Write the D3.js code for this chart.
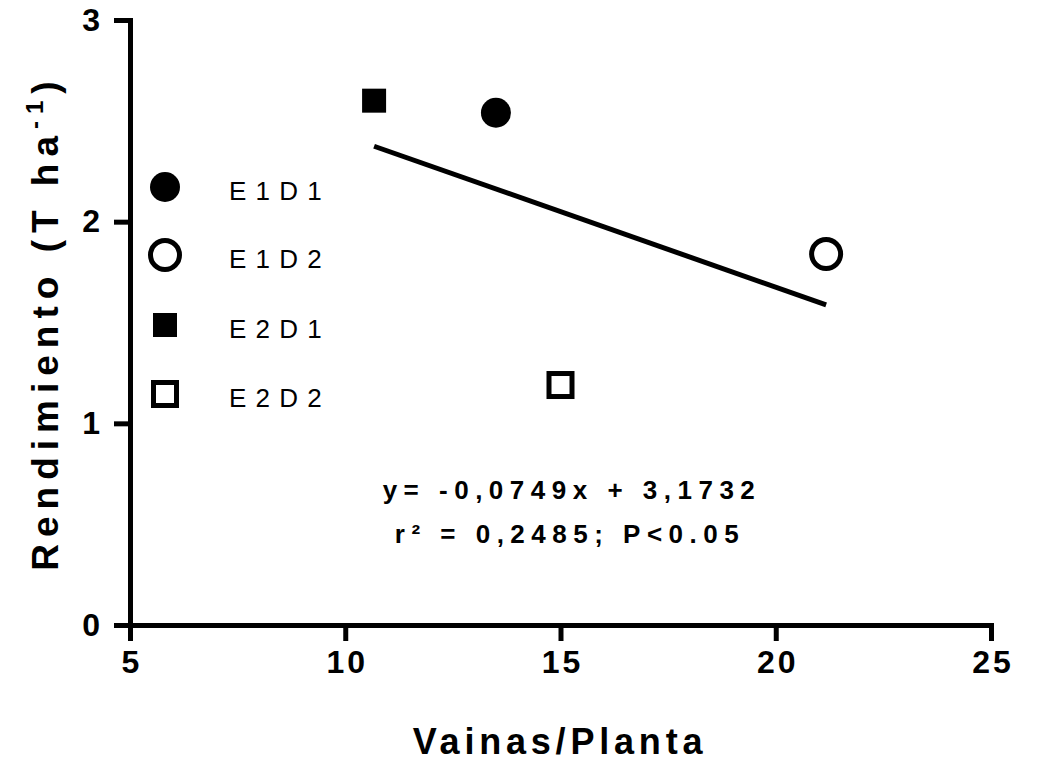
<!DOCTYPE html>
<html>
<head>
<meta charset="utf-8">
<script src="https://cdn.jsdelivr.net/npm/d3@7"></script>
<style>
  html, body { margin: 0; padding: 0; background: #fff; }
  text { font-family: "Liberation Sans", Arial, sans-serif; fill: #000; }
</style>
</head>
<body>
<svg id="chart" width="1043" height="763"></svg>
<script>
// ---- data ----
const seriesNames = ["E1D1", "E1D2", "E2D1", "E2D2"];
const legendLabels = ["E 1 D 1", "E 1 D 2", "E 2 D 1", "E 2 D 2"];
const vainas = [13.5, 21.17, 10.67, 15.0];
const rendimiento = [2.54, 1.84, 2.60, 1.19];
const symbolShapes = ["circle", "circle", "square", "square"];
const symbolFilled = [true, false, true, false];
const xTicks = [5, 10, 15, 20, 25];
const yTicks = [0, 1, 2, 3];
const slope = -0.0749;
const intercept = 3.1732;
const eqLine1 = "y= -0,0749x + 3,1732";
const eqLine2 = "r² = 0,2485; P<0.05";

// ---- layout ----
const svg = d3.select("#chart");
const x = d3.scaleLinear().domain([5, 25]).range([130, 991]);
const y = d3.scaleLinear().domain([0, 3]).range([625, 20]);
const AW = 5;

// axes
const xAxis = d3.axisBottom(x).tickValues(xTicks).tickSize(16).tickSizeOuter(0).tickPadding(9).tickFormat(d3.format("d"));
const yAxis = d3.axisLeft(y).tickValues(yTicks).tickSize(16).tickSizeOuter(0).tickPadding(14).tickFormat(d3.format("d"));

const gx = svg.append("g").attr("transform", `translate(0,${y(0)})`).call(xAxis);
const gy = svg.append("g").attr("transform", `translate(${x(5)},0)`).call(yAxis);
[gx, gy].forEach(g => {
  g.selectAll("path.domain").attr("stroke", "#000").attr("stroke-width", AW).attr("stroke-linecap", "square");
  g.selectAll(".tick line").attr("stroke", "#000").attr("stroke-width", AW);
  g.selectAll(".tick text")
    .style("font-family", "'Liberation Sans', Arial, sans-serif")
    .style("font-weight", "bold").style("font-size", "32px")
    .style("letter-spacing", "3px").attr("fill", "#000");
});
gx.selectAll(".tick text").attr("dx", "1.5px");
gy.selectAll(".tick text").attr("dx", "3px");

// regression line over data range
const xmin = d3.min(vainas), xmax = d3.max(vainas);
svg.append("line")
  .attr("x1", x(xmin)).attr("y1", y(slope * xmin + intercept))
  .attr("x2", x(xmax)).attr("y2", y(slope * xmax + intercept))
  .attr("stroke", "#000").attr("stroke-width", AW);

// symbol drawing
function drawSymbol(g, shape, filled, cx, cy) {
  if (shape === "circle") {
    if (filled) g.append("circle").attr("cx", cx).attr("cy", cy).attr("r", 15).attr("fill", "#000");
    else g.append("circle").attr("cx", cx).attr("cy", cy).attr("r", 14.5).attr("fill", "#fff").attr("stroke", "#000").attr("stroke-width", 5);
  } else {
    if (filled) g.append("rect").attr("x", cx - 12).attr("y", cy - 12).attr("width", 24).attr("height", 24).attr("fill", "#000");
    else g.append("rect").attr("x", cx - 11.5).attr("y", cy - 11.5).attr("width", 23).attr("height", 23).attr("fill", "#fff").attr("stroke", "#000").attr("stroke-width", 5);
  }
}

const pts = svg.append("g");
seriesNames.forEach((s, i) => {
  drawSymbol(pts, symbolShapes[i], symbolFilled[i], x(vainas[i]), y(rendimiento[i]));
});

// legend
const leg = svg.append("g");
const legY = [187, 255, 325, 394];
seriesNames.forEach((s, i) => {
  drawSymbol(leg, symbolShapes[i], symbolFilled[i], 165, legY[i]);
  leg.append("text").attr("x", 229).attr("y", legY[i] + 13)
    .style("font-size", "26px").style("letter-spacing", "1px").text(legendLabels[i]);
});

// equation text
svg.append("text").attr("x", 572).attr("y", 499).attr("text-anchor", "middle")
  .style("font-size", "26px").style("font-weight", "bold").style("letter-spacing", "6.5px").text(eqLine1);
svg.append("text").attr("x", 570).attr("y", 543).attr("text-anchor", "middle")
  .style("font-size", "26px").style("font-weight", "bold").style("letter-spacing", "6.5px").text(eqLine2);

// axis titles
svg.append("text").attr("x", 560).attr("y", 754).attr("text-anchor", "middle")
  .style("font-size", "36px").style("font-weight", "bold").style("letter-spacing", "4.8px").text("Vainas/Planta");

const yt = svg.append("text").attr("transform", `translate(58,${(y(0) + y(3)) / 2}) rotate(-90)`)
  .attr("text-anchor", "middle")
  .style("font-size", "37px").style("font-weight", "bold").style("letter-spacing", "7px");
yt.append("tspan").text("Rendimiento (T ha");
yt.append("tspan").attr("dy", "-15").style("font-size", "24px").text("-1");
yt.append("tspan").attr("dy", "15").text(")");
</script>
</body>
</html>
